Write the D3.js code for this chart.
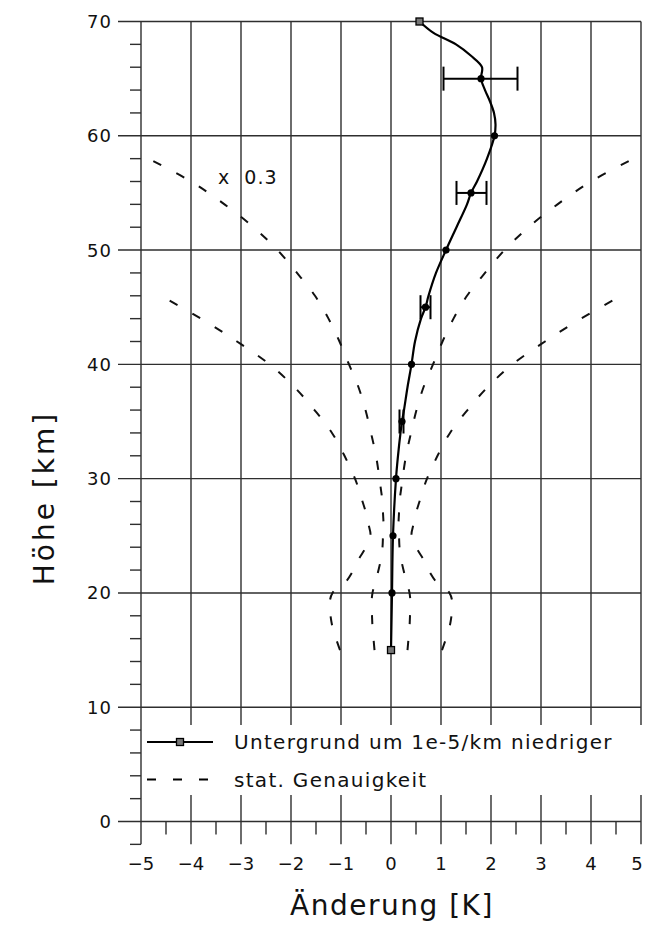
<!DOCTYPE html>
<html>
<head>
<meta charset="utf-8">
<script src="https://cdn.jsdelivr.net/npm/d3@7"></script>
<style>
body { margin: 0; background: #fff; }
svg { display: block; }
text { font-family: "DejaVu Sans", sans-serif; fill: #111; }
</style>
</head>
<body>
<div id="chart"></div>
<script>
// profile (solid line)
var lineAlt = [15, 20, 25, 30, 32, 34, 35, 36, 38, 40, 42, 44, 45, 46, 48, 50, 52, 54, 55, 56, 58, 60, 61, 62, 63, 64, 65, 66, 67, 68, 69, 70];
var lineVal = [0.0, 0.02, 0.04, 0.1, 0.14, 0.19, 0.22, 0.26, 0.33, 0.41, 0.48, 0.6, 0.69, 0.75, 0.9, 1.1, 1.31, 1.52, 1.6, 1.72, 1.92, 2.07, 2.09, 2.06, 1.98, 1.88, 1.8, 1.82, 1.6, 1.3, 0.85, 0.57];

var dotAlt = [20, 25, 30, 35, 40, 45, 50, 55, 60, 65];
var squareAlt = [15, 70];

// error bars
var errAlt = [35, 45, 55, 65];
var errLo = [0.17, 0.59, 1.31, 1.05];
var errHi = [0.25, 0.79, 1.91, 2.53];

// stat. Genauigkeit (half width, symmetric about 0)
var precAlt = [15, 16, 17, 18, 19, 20, 21, 22, 23, 24, 25, 26, 27, 28, 29, 30, 32, 34, 36, 38, 40, 42, 44, 46];
var precVal = [1.02, 1.1, 1.17, 1.21, 1.23, 1.17, 0.9, 0.75, 0.64, 0.5, 0.41, 0.45, 0.5, 0.57, 0.64, 0.72, 0.93, 1.18, 1.53, 1.93, 2.43, 3.08, 3.8, 4.6];

// same, scaled x 0.3
var precAlt3 = [15, 16, 17, 18, 19, 20, 21, 22, 23, 24, 25, 26, 27, 28, 29, 30, 32, 34, 36, 38, 40, 42, 44, 46, 48, 50, 52, 54, 56, 58];
var precVal3 = [0.33, 0.35, 0.37, 0.38, 0.39, 0.37, 0.31, 0.25, 0.2, 0.17, 0.16, 0.15, 0.16, 0.17, 0.2, 0.23, 0.3, 0.4, 0.51, 0.65, 0.84, 1.03, 1.25, 1.52, 1.88, 2.27, 2.75, 3.33, 4.0, 4.85];

var xTicks = [-5, -4, -3, -2, -1, 0, 1, 2, 3, 4, 5];
var yTicks = [0, 10, 20, 30, 40, 50, 60, 70];

var legendLabels = ["Untergrund um 1e-5/km niedriger", "stat. Genauigkeit"];

var x = d3.scaleLinear().domain([-5, 5]).range([141, 641]);
var y = d3.scaleLinear().domain([0, 70]).range([821.5, 21.5]);

var svg = d3.select("#chart").append("svg")
    .attr("width", 645)
    .attr("height", 941);

svg.append("defs").append("clipPath").attr("id", "plot")
    .append("rect")
    .attr("x", x(-5)).attr("y", y(70))
    .attr("width", x(5) - x(-5)).attr("height", y(0) - y(70));

// grid
var grid = svg.append("g").attr("stroke", "#2e2e2e").attr("stroke-width", 1.4);

grid.selectAll(".vg").data(xTicks).enter().append("line")
    .attr("x1", function(d) { return x(d); })
    .attr("x2", function(d) { return x(d); })
    .attr("y1", y(70))
    .attr("y2", y(-2));

grid.selectAll(".hg").data(yTicks).enter().append("line")
    .attr("x1", 118)
    .attr("x2", x(5))
    .attr("y1", function(d) { return y(d); })
    .attr("y2", function(d) { return y(d); });

var yMinor = d3.range(-2, 70, 2).filter(function(d) { return d % 10 != 0; });
grid.selectAll(".ym").data(yMinor).enter().append("line")
    .attr("x1", 130)
    .attr("x2", x(-5))
    .attr("y1", function(d) { return y(d); })
    .attr("y2", function(d) { return y(d); });

var xMinor = d3.range(-4.5, 5, 1);
grid.selectAll(".xm").data(xMinor).enter().append("line")
    .attr("x1", function(d) { return x(d); })
    .attr("x2", function(d) { return x(d); })
    .attr("y1", y(0))
    .attr("y2", y(0) + 13);

// legend background covers the grid
svg.append("rect")
    .attr("x", x(-5) + 1.5).attr("y", 725)
    .attr("width", 645 - x(-5)).attr("height", 70)
    .attr("fill", "#fff");

// tick labels
svg.selectAll(".yl").data(yTicks).enter().append("text")
    .attr("x", 112)
    .attr("y", function(d) { return y(d) + 6.5; })
    .attr("text-anchor", "end")
    .attr("font-size", 18)
    .attr("letter-spacing", 1)
    .text(function(d) { return d; });

var fmt = d3.format("d");
svg.selectAll(".xl").data(xTicks).enter().append("text")
    .attr("x", function(d) { return d == 5 ? x(d) - 4 : x(d); })
    .attr("y", 870)
    .attr("text-anchor", "middle")
    .attr("font-size", 18)
    .text(function(d) { return fmt(d); });

// axis titles
svg.append("text")
    .attr("transform", "translate(54,498) rotate(-90)")
    .attr("text-anchor", "middle")
    .attr("font-size", 28)
    .attr("letter-spacing", 3)
    .text("Höhe [km]");

svg.append("text")
    .attr("x", 392)
    .attr("y", 915)
    .attr("text-anchor", "middle")
    .attr("font-size", 28)
    .attr("letter-spacing", 1.5)
    .text("Änderung [K]");

// dashed accuracy curves
var curves = svg.append("g").attr("clip-path", "url(#plot)");

function dashed(alts, vals, sign) {
    var pts = alts.map(function(a, i) { return [sign * vals[i], a]; });
    var line = d3.line()
        .x(function(d) { return x(d[0]); })
        .y(function(d) { return y(d[1]); })
        .curve(d3.curveCatmullRom);
    curves.append("path")
        .attr("d", line(pts))
        .attr("fill", "none")
        .attr("stroke", "#111")
        .attr("stroke-width", 2)
        .attr("stroke-dasharray", "9,17");
}
dashed(precAlt, precVal, -1);
dashed(precAlt, precVal, 1);
dashed(precAlt3, precVal3, -1);
dashed(precAlt3, precVal3, 1);

svg.append("text")
    .attr("x", 218)
    .attr("y", 184)
    .attr("font-size", 19)
    .attr("letter-spacing", 1)
    .attr("xml:space", "preserve")
    .text("x  0.3");

// profile
var profile = lineAlt.map(function(a, i) { return [lineVal[i], a]; });
var pLine = d3.line()
    .x(function(d) { return x(d[0]); })
    .y(function(d) { return y(d[1]); })
    .curve(d3.curveCatmullRom);

svg.append("path")
    .attr("d", pLine(profile))
    .attr("fill", "none")
    .attr("stroke", "#000")
    .attr("stroke-width", 2.2);

function valAt(a) {
    return lineVal[lineAlt.indexOf(a)];
}

svg.selectAll(".dot").data(dotAlt).enter().append("circle")
    .attr("cx", function(d) { return x(valAt(d)); })
    .attr("cy", function(d) { return y(d); })
    .attr("r", 3.6)
    .attr("fill", "#000");

svg.selectAll(".sq").data(squareAlt).enter().append("rect")
    .attr("x", function(d) { return x(valAt(d)) - 3.5; })
    .attr("y", function(d) { return y(d) - 3.5; })
    .attr("width", 7)
    .attr("height", 7)
    .attr("fill", "#777")
    .attr("stroke", "#000")
    .attr("stroke-width", 1.3);

// error bars
var eb = svg.append("g").attr("stroke", "#000").attr("stroke-width", 2);
errAlt.forEach(function(a, i) {
    eb.append("line")
        .attr("x1", x(errLo[i])).attr("x2", x(errHi[i]))
        .attr("y1", y(a)).attr("y2", y(a));
    [errLo[i], errHi[i]].forEach(function(v) {
        eb.append("line")
            .attr("x1", x(v)).attr("x2", x(v))
            .attr("y1", y(a) - 12).attr("y2", y(a) + 12);
    });
});

// legend
var lg = svg.append("g");
lg.append("line")
    .attr("x1", 147).attr("x2", 213)
    .attr("y1", 742).attr("y2", 742)
    .attr("stroke", "#000").attr("stroke-width", 2);
lg.append("rect")
    .attr("x", 176.5).attr("y", 738.5)
    .attr("width", 7).attr("height", 7)
    .attr("fill", "#777").attr("stroke", "#000").attr("stroke-width", 1.3);
lg.append("line")
    .attr("x1", 147).attr("x2", 213)
    .attr("y1", 779.5).attr("y2", 779.5)
    .attr("stroke", "#000").attr("stroke-width", 2)
    .attr("stroke-dasharray", "9,17");

lg.selectAll(".lt").data(legendLabels).enter().append("text")
    .attr("x", 234)
    .attr("y", function(d, i) { return 749 + i * 38; })
    .attr("font-size", 20)
    .attr("letter-spacing", 1.3)
    .text(function(d) { return d; });
</script>
</body>
</html>
